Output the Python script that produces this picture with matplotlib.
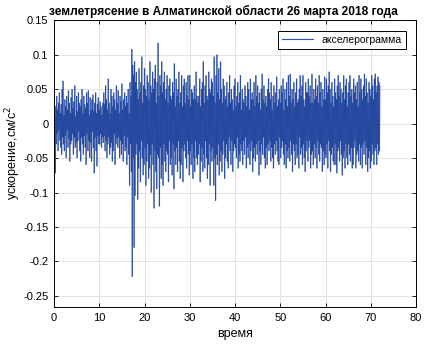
import numpy as np
import matplotlib
matplotlib.use("Agg")
import matplotlib.pyplot as plt
from matplotlib.collections import LineCollection

plt.rcParams['font.family'] = ['Liberation Sans', 'DejaVu Sans']

title = "землетрясение в Алматинской области 26 марта 2018 года"
x_label = "время"
y_label = "ускорение,см/с$^2$"
legend_label = "акселерограмма"
x_ticks = [0, 10, 20, 30, 40, 50, 60, 70, 80]
y_ticks = [-0.25, -0.2, -0.15, -0.1, -0.05, 0, 0.05, 0.1, 0.15]
y_tick_labels = ["-0.25", "-0.2", "-0.15", "-0.1", "-0.05", "0", "0.05", "0.1", "0.15"]

time_step = 0.1  # s
accel = [
    0.035, -0.02, 0.01, -0.072, 0.025, -0.03, 0.04, -0.015, 0.02, -0.04,
    0.03, -0.01, 0.045, -0.025, 0.015, -0.035, 0.028, -0.045, 0.05, -0.02,
    0.062, -0.03, 0.012, -0.04, 0.035, -0.018, 0.025, -0.05, 0.04, -0.01,
    0.02, -0.035, 0.048, -0.022, 0.03, -0.055, 0.015, -0.03, 0.038, -0.025,
    0.05, -0.015, 0.022, -0.045, 0.032, -0.02, 0.055, -0.035, 0.01, -0.028,
    0.04, -0.05, 0.018, -0.025, 0.045, -0.012, 0.03, -0.04, 0.025, -0.055,
    0.035, -0.02, 0.05, -0.03, 0.015, -0.045, 0.04, -0.018, 0.028, -0.035,
    0.022, -0.06, 0.045, -0.015, 0.03, -0.04, 0.048, -0.025, 0.012, -0.05,
    0.038, -0.028, 0.02, -0.055, 0.035, -0.012, 0.042, -0.035, 0.018, -0.072,
    0.03, -0.02, 0.045, -0.04, 0.015, -0.062, 0.028, -0.018, 0.038, -0.03,
    0.02, -0.03, 0.032, -0.015, 0.025, -0.035, 0.012, -0.02, 0.03, -0.028,
    0.045, -0.018, 0.028, -0.04, 0.055, -0.025, 0.035, -0.05, 0.02, -0.03,
    0.065, -0.02, 0.03, -0.045, 0.015, -0.035, 0.05, -0.028, 0.04, -0.055,
    0.025, -0.04, 0.045, -0.015, 0.035, -0.06, 0.02, -0.03, 0.055, -0.022,
    0.03, -0.035, 0.048, -0.02, 0.015, -0.05, 0.04, -0.025, 0.032, -0.045,
    0.058, -0.03, 0.02, -0.055, 0.035, -0.018, 0.045, -0.04, 0.025, -0.035,
    0.04, -0.06, 0.03, -0.02, 0.05, -0.045, 0.015, -0.09, 0.06, -0.03,
    0.04, -0.07, 0.108, -0.222, 0.085, -0.05, 0.07, -0.18, 0.09, -0.105,
    0.06, -0.045, 0.075, -0.03, 0.05, -0.11, 0.035, -0.065, 0.08, -0.04,
    0.045, -0.085, 0.06, -0.025, 0.097, -0.05, 0.03, -0.075, 0.055, -0.06,
    0.08, -0.035, 0.05, -0.09, 0.04, -0.055, 0.07, -0.03, 0.06, -0.08,
    0.035, -0.065, 0.09, -0.045, 0.055, -0.1, 0.045, -0.03, 0.075, -0.06,
    0.05, -0.123, 0.065, -0.04, 0.085, -0.07, 0.03, -0.095, 0.06, -0.045,
    0.117, -0.05, 0.04, -0.12, 0.07, -0.035, 0.055, -0.08, 0.09, -0.06,
    0.045, -0.09, 0.06, -0.03, 0.075, -0.055, 0.035, -0.07, 0.05, -0.04,
    0.07, -0.045, 0.03, -0.085, 0.055, -0.025, 0.065, -0.06, 0.04, -0.05,
    0.035, -0.075, 0.06, -0.03, 0.045, -0.095, 0.087, -0.04, 0.025, -0.06,
    0.065, -0.035, 0.04, -0.07, 0.05, -0.025, 0.075, -0.055, 0.03, -0.08,
    0.045, -0.06, 0.07, -0.035, 0.025, -0.085, 0.055, -0.04, 0.065, -0.03,
    0.03, -0.05, 0.06, -0.065, 0.04, -0.025, 0.07, -0.045, 0.035, -0.075,
    0.07, -0.04, 0.025, -0.06, 0.05, -0.03, 0.045, -0.08, 0.035, -0.05,
    0.055, -0.07, 0.035, -0.025, 0.075, -0.05, 0.04, -0.06, 0.03, -0.045,
    0.04, -0.03, 0.065, -0.085, 0.025, -0.055, 0.05, -0.035, 0.06, -0.07,
    0.09, -0.045, 0.03, -0.065, 0.055, -0.025, 0.07, -0.05, 0.04, -0.08,
    0.035, -0.06, 0.075, -0.03, 0.05, -0.09, 0.045, -0.04, 0.065, -0.055,
    0.06, -0.035, 0.04, -0.09, 0.097, -0.05, 0.03, -0.112, 0.07, -0.045,
    0.1, -0.06, 0.045, -0.03, 0.08, -0.075, 0.035, -0.055, 0.09, -0.04,
    0.05, -0.07, 0.03, -0.045, 0.065, -0.025, 0.055, -0.08, 0.035, -0.05,
    0.04, -0.03, 0.06, -0.055, 0.025, -0.065, 0.045, -0.02, 0.07, -0.04,
    0.03, -0.06, 0.05, -0.025, 0.035, -0.07, 0.02, -0.04, 0.055, -0.03,
    0.065, -0.035, 0.025, -0.05, 0.04, -0.02, 0.06, -0.065, 0.03, -0.045,
    0.045, -0.055, 0.07, -0.03, 0.02, -0.04, 0.05, -0.06, 0.035, -0.025,
    0.03, -0.045, 0.055, -0.02, 0.04, -0.065, 0.025, -0.035, 0.06, -0.05,
    0.05, -0.03, 0.02, -0.06, 0.065, -0.04, 0.035, -0.025, 0.045, -0.07,
    0.035, -0.05, 0.06, -0.035, 0.025, -0.055, 0.07, -0.03, 0.04, -0.045,
    0.055, -0.025, 0.03, -0.075, 0.045, -0.04, 0.02, -0.06, 0.05, -0.03,
    0.072, -0.045, 0.035, -0.02, 0.055, -0.05, 0.03, -0.065, 0.04, -0.035,
    0.025, -0.06, 0.05, -0.03, 0.065, -0.04, 0.045, -0.025, 0.035, -0.055,
    0.06, -0.035, 0.02, -0.05, 0.04, -0.065, 0.055, -0.03, 0.03, -0.045,
    0.045, -0.025, 0.068, -0.04, 0.025, -0.055, 0.035, -0.06, 0.05, -0.02,
    0.03, -0.05, 0.055, -0.035, 0.045, -0.025, 0.065, -0.045, 0.02, -0.06,
    0.05, -0.03, 0.035, -0.065, 0.06, -0.04, 0.025, -0.05, 0.07, -0.035,
    0.04, -0.055, 0.072, -0.025, 0.03, -0.045, 0.05, -0.07, 0.035, -0.03,
    0.06, -0.04, 0.025, -0.06, 0.045, -0.03, 0.065, -0.05, 0.03, -0.045,
    0.035, -0.065, 0.05, -0.02, 0.07, -0.045, 0.04, -0.035, 0.055, -0.06,
    0.07, -0.03, 0.035, -0.05, 0.025, -0.07, 0.06, -0.04, 0.045, -0.025,
    0.045, -0.055, 0.065, -0.035, 0.04, -0.025, 0.055, -0.065, 0.03, -0.045,
    0.072, -0.04, 0.03, -0.06, 0.05, -0.03, 0.035, -0.05, 0.065, -0.035,
    0.04, -0.065, 0.055, -0.025, 0.03, -0.045, 0.07, -0.055, 0.045, -0.03,
    0.06, -0.035, 0.025, -0.07, 0.05, -0.04, 0.035, -0.06, 0.068, -0.045,
    0.035, -0.05, 0.065, -0.03, 0.045, -0.065, 0.055, -0.025, 0.075, -0.04,
    0.05, -0.07, 0.03, -0.045, 0.06, -0.035, 0.04, -0.055, 0.025, -0.06,
    0.065, -0.03, 0.045, -0.06, 0.035, -0.072, 0.055, -0.04, 0.07, -0.035,
    0.04, -0.055, 0.06, -0.025, 0.05, -0.045, 0.03, -0.075, 0.045, -0.05,
    0.07, -0.04, 0.035, -0.065, 0.055, -0.03, 0.065, -0.05, 0.025, -0.06,
    0.045, -0.03, 0.06, -0.045, 0.07, -0.055, 0.04, -0.035, 0.05, -0.065,
    0.03, -0.06, 0.065, -0.035, 0.045, -0.025, 0.055, -0.065, 0.035, -0.045,
    0.06, -0.04, 0.025, -0.055, 0.07, -0.03, 0.045, -0.06, 0.065, -0.035,
    0.05, -0.065, 0.035, -0.03, 0.055, -0.045, 0.072, -0.025, 0.04, -0.06,
    0.065, -0.035, 0.045, -0.07, 0.03, -0.05, 0.06, -0.04, 0.05, -0.065,
    0.04, -0.055, 0.07, -0.03, 0.055, -0.045, 0.035, -0.06, 0.065, -0.04,
    0.072, -0.035, 0.045, -0.06, 0.055, -0.03, 0.068, -0.045, 0.06, -0.04,
    0.055,
]
time = np.arange(len(accel)) * time_step

fig = plt.figure(figsize=(4.25, 3.44), dpi=100)
ax = fig.add_axes([0.127, 0.1076, 0.852, 0.834])
pts = np.column_stack([time, accel])
segments = np.stack([pts[:-1], pts[1:]], axis=1)
lc = LineCollection(segments, colors='#1a3f9c', linewidths=0.85, alpha=0.72,
                    label=legend_label)
ax.add_collection(lc)

ax.set_xlim(0, 80)
ax.set_ylim(-0.266, 0.15)
ax.set_xticks(x_ticks)
ax.set_yticks(y_ticks)
ax.set_yticklabels(y_tick_labels)
ax.tick_params(direction='in', top=True, right=True, labelsize=8, length=3, width=0.6, pad=4)
ax.grid(True, color='#dddddd', lw=0.6)
ax.set_axisbelow(True)
for s in ax.spines.values():
    s.set_linewidth(0.7)
fig.text(0.525, 0.985, title, fontsize=8.6, fontweight='bold', ha='center', va='top')
ax.set_xlabel(x_label, fontsize=9)
ax.set_ylabel(y_label, fontsize=9)
ax.yaxis.set_label_coords(-0.086, 0.537)
leg = ax.legend(handles=[plt.Line2D([], [], color='#2a4fc0', lw=0.8)], labels=[legend_label],
                loc='upper right', fontsize=7.5, frameon=True, fancybox=False,
                edgecolor='black', framealpha=1, borderaxespad=1.0, handlelength=3.0)
leg.get_frame().set_linewidth(0.7)

fig.savefig('out.png', dpi=100, facecolor='white')
